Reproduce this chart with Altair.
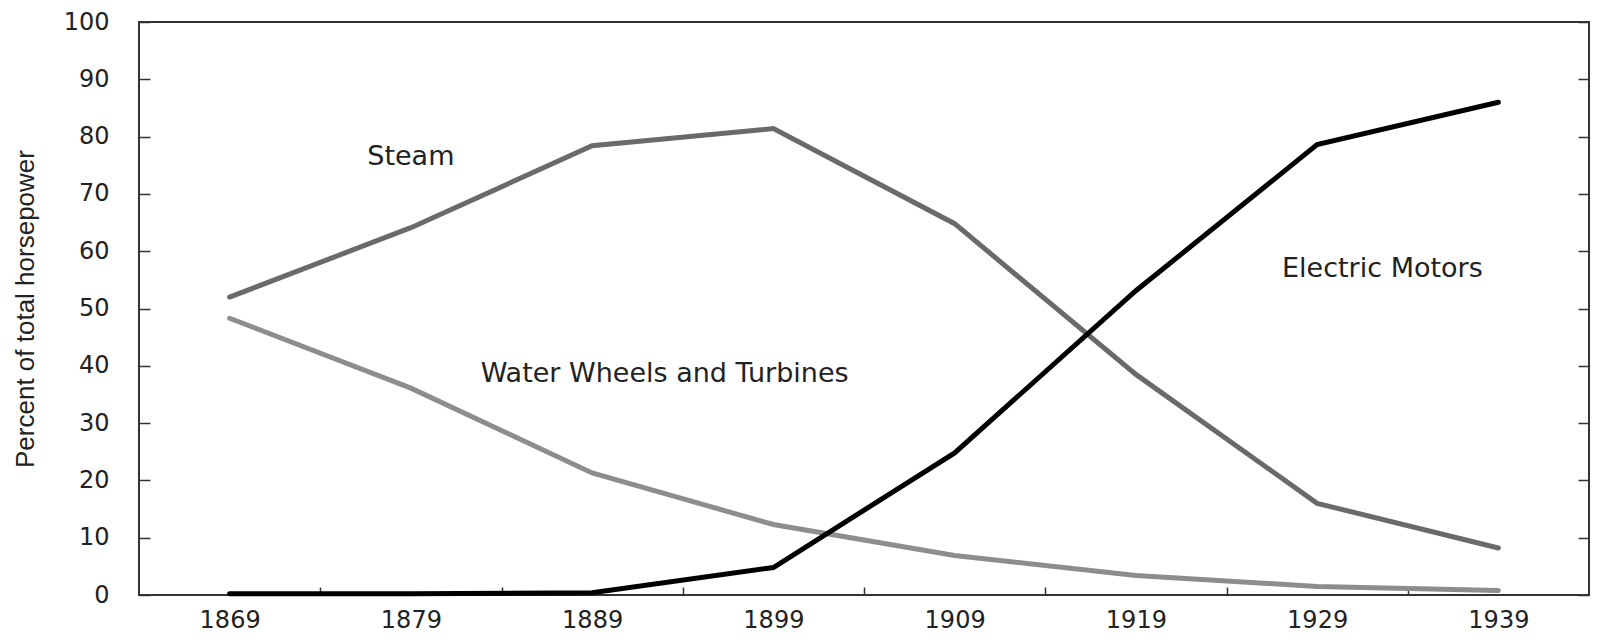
import altair as alt
import pandas as pd

# ---- data ----
years = [1869, 1879, 1889, 1899, 1909, 1919, 1929, 1939]
steam = [52.0, 64.1, 78.4, 81.4, 64.8, 38.5, 16.0, 8.2]
water = [48.3, 36.1, 21.3, 12.3, 6.9, 3.4, 1.5, 0.8]
electric = [0.2, 0.2, 0.4, 4.8, 24.8, 53.1, 78.6, 86.0]

series_names = ["Water Wheels and Turbines", "Steam", "Electric Motors"]
series_colors = ["#8d8d8d", "#6a6a6a", "#000000"]

y_ticks = [0, 10, 20, 30, 40, 50, 60, 70, 80, 90, 100]
x_bounds = [1874, 1884, 1894, 1904, 1914, 1924, 1934]

ann_labels = ["Steam", "Water Wheels and Turbines", "Electric Motors"]
ann_x = [1879.0, 1893.0, 1932.6]
ann_y = [76.5, 38.6, 56.9]

rows = []
for name, vals in zip(series_names, [water, steam, electric]):
    for yr, v in zip(years, vals):
        rows.append({"year": yr, "value": v, "series": name})
df = pd.DataFrame(rows)
ann = pd.DataFrame({"label": ann_labels, "year": ann_x, "value": ann_y})

W, H = 1450, 573
xscale = alt.Scale(domain=[1864, 1944], nice=False, zero=False)
yscale = alt.Scale(domain=[0, 100], nice=False)

LABEL_FONT = "DejaVu Sans"
TXT = "#222222"
TICK = "#333333"

lines = alt.Chart(df).mark_line(strokeWidth=5, strokeCap="round").encode(
    x=alt.X("year:Q", scale=xscale,
            axis=alt.Axis(values=years, format="d", labelFlush=False, ticks=False, tickSize=0,
                          domain=False, grid=False, labelPadding=13, title=None,
                          labelFont=LABEL_FONT, labelFontSize=24, labelColor=TXT)),
    y=alt.Y("value:Q", scale=yscale,
            axis=alt.Axis(values=y_ticks, ticks=False, tickSize=0, domain=False, grid=False,
                          labelPadding=30, labelFont=LABEL_FONT, labelFontSize=24, labelColor=TXT,
                          title="Percent of total horsepower", titlePadding=25,
                          titleFont="Liberation Sans", titleFontSize=26, titleFontWeight="normal",
                          titleColor=TXT)),
    color=alt.Color("series:N", scale=alt.Scale(domain=series_names, range=series_colors), legend=None),
)

ticks_a = alt.Chart(df).mark_line(opacity=0).encode(
    x=alt.X("year:Q", scale=xscale,
            axis=alt.Axis(orient="top", offset=-H, values=x_bounds, labels=False, tickSize=8,
                          tickWidth=1.5, tickColor=TICK, domain=False, grid=False, title=None,
                          minExtent=0)),
    y=alt.Y("value:Q", scale=yscale,
            axis=alt.Axis(orient="right", offset=-W, values=y_ticks, labels=False, tickSize=11,
                          tickWidth=1.5, tickColor=TICK, domain=False, grid=False, title=None,
                          minExtent=0)),
)

ticks_b = alt.Chart(df).mark_line(opacity=0).encode(
    x=alt.X("year:Q", scale=xscale, axis=None),
    y=alt.Y("value:Q", scale=yscale,
            axis=alt.Axis(orient="left", offset=-W, values=y_ticks, labels=False, tickSize=11,
                          tickWidth=1.5, tickColor=TICK, domain=False, grid=False, title=None,
                          minExtent=0)),
)

text = alt.Chart(ann).mark_text(font=LABEL_FONT, fontSize=27, color=TXT,
                                align="center", baseline="middle").encode(
    x=alt.X("year:Q", scale=xscale, axis=None),
    y=alt.Y("value:Q", scale=yscale, axis=None),
    text="label:N",
)

chart = alt.layer(lines, ticks_a, ticks_b, text).resolve_scale(
    x="independent", y="independent"
).properties(
    width=W, height=H,
    padding={"left": 4, "top": 2, "right": 0, "bottom": 0},
).configure_view(stroke=TICK, strokeWidth=2)

chart.save("out.html", embed_options={"renderer": "svg", "actions": False})
